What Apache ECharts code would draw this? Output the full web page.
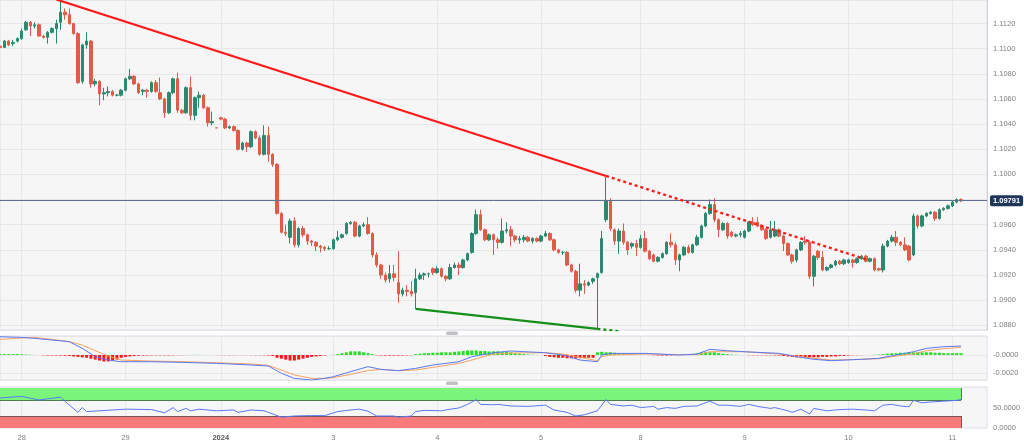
<!DOCTYPE html>
<html><head><meta charset="utf-8">
<script src="https://cdn.jsdelivr.net/npm/echarts@6/dist/echarts.min.js"></script>
<style>html,body{margin:0;padding:0;background:#fff;}#c{width:1024px;height:442px;}</style>
</head><body><div id="c"></div>
<script>
// ---- day structure of hourly candles (label, first hour, number of hourly candles) ----
const days = [
  {label:'27', start:19, count:5},
  {label:'28', start:0, count:24},
  {label:'29', start:0, count:22},
  {label:'2024', start:0, count:26},
  {label:'3', start:0, count:24},
  {label:'4', start:0, count:24},
  {label:'5', start:0, count:23},
  {label:'8', start:0, count:24},
  {label:'9', start:0, count:24},
  {label:'10', start:0, count:24},
  {label:'11', start:0, count:9}
];
// ---- hourly candles: [open, close, low, high] ----
const candles = [
[1.1102,1.1101,1.1100,1.1104],
[1.1101,1.1106,1.1101,1.1107],[1.1106,1.1103,1.1102,1.1107],[1.1104,1.1105,1.1102,1.1107],[1.1106,1.1108,1.1105,1.1109],
[1.1108,1.1114,1.1107,1.1116],[1.1115,1.1121,1.1114,1.1122],[1.1121,1.1118,1.1110,1.1122],[1.1118,1.1119,1.1116,1.1121],
[1.1119,1.1110,1.1110,1.1120],[1.1110,1.1109,1.1108,1.1111],[1.1109,1.1113,1.1104,1.1114],[1.1113,1.1116,1.1112,1.1117],
[1.1116,1.1120,1.1104,1.1123],[1.1121,1.1129,1.1115,1.1138],[1.1129,1.1127,1.1123,1.1132],[1.1127,1.1120,1.1119,1.1132],
[1.1120,1.1112,1.1111,1.1120],[1.1112,1.1073,1.1072,1.1113],[1.1074,1.1103,1.1072,1.1104],[1.1103,1.1106,1.1100,1.1113],
[1.1106,1.1072,1.1069,1.1107],[1.1072,1.1074,1.1070,1.1076],[1.1074,1.1064,1.1055,1.1075],[1.1064,1.1065,1.1059,1.1069],
[1.1065,1.1066,1.1062,1.1070],[1.1066,1.1063,1.1062,1.1067],[1.1063,1.1063,1.1062,1.1064],[1.1063,1.1067,1.1062,1.1068],
[1.1067,1.1076,1.1066,1.1077],[1.1076,1.1078,1.1075,1.1084],[1.1078,1.1072,1.1071,1.1079],[1.1072,1.1065,1.1064,1.1073],
[1.1066,1.1067,1.1063,1.1068],[1.1067,1.1066,1.1061,1.1068],[1.1066,1.1073,1.1065,1.1074],[1.1073,1.1066,1.1065,1.1075],
[1.1065,1.1060,1.1059,1.1077],[1.1060,1.1049,1.1045,1.1061],[1.1049,1.1065,1.1048,1.1066],[1.1065,1.1076,1.1064,1.1077],
[1.1076,1.1051,1.1049,1.1081],[1.1051,1.1049,1.1048,1.1052],[1.1049,1.1069,1.1048,1.1070],[1.1069,1.1047,1.1043,1.1078],
[1.1047,1.1061,1.1043,1.1062],[1.1061,1.1063,1.1053,1.1066],[1.1063,1.1053,1.1052,1.1064],[1.1053,1.1041,1.1038,1.1054],
[1.1041,1.1042,1.1039,1.1050],[1.1037,1.1037,1.1037,1.1037],[1.1045,1.1044,1.1043,1.1046],[1.1044,1.1037,1.1036,1.1045],
[1.1037,1.1038,1.1036,1.1039],[1.1038,1.1035,1.1034,1.1039],[1.1035,1.1020,1.1019,1.1036],[1.1020,1.1025,1.1019,1.1026],
[1.1025,1.1022,1.1018,1.1026],[1.1022,1.1034,1.1021,1.1035],[1.1034,1.1029,1.1028,1.1035],[1.1029,1.1016,1.1015,1.1031],
[1.1016,1.1031,1.1015,1.1039],[1.1031,1.1016,1.1010,1.1038],[1.1016,1.1008,1.1006,1.1017],[1.1008,1.0969,1.0968,1.1009],
[1.0969,1.0954,1.0953,1.0970],[1.0954,1.0953,1.0951,1.0960],[1.0950,1.0963,1.0945,1.0965],[1.0963,1.0944,1.0942,1.0966],
[1.0944,1.0957,1.0942,1.0958],[1.0957,1.0952,1.0950,1.0959],[1.0952,1.0947,1.0944,1.0953],[1.0947,1.0946,1.0943,1.0948],
[1.0946,1.0943,1.0939,1.0947],[1.0943,1.0942,1.0938,1.0944],[1.0942,1.0941,1.0939,1.0943],[1.0941,1.0941,1.0940,1.0943],
[1.0941,1.0948,1.0940,1.0949],[1.0948,1.0950,1.0947,1.0955],[1.0950,1.0952,1.0949,1.0953],[1.0953,1.0961,1.0952,1.0962],
[1.0961,1.0962,1.0960,1.0963],[1.0962,1.0951,1.0950,1.0963],[1.0951,1.0959,1.0950,1.0960],[1.0959,1.0960,1.0958,1.0962],
[1.0960,1.0953,1.0952,1.0966],[1.0953,1.0936,1.0934,1.0954],[1.0936,1.0928,1.0926,1.0938],[1.0928,1.0920,1.0917,1.0929],
[1.0920,1.0916,1.0914,1.0922],[1.0917,1.0921,1.0914,1.0928],[1.0921,1.0918,1.0915,1.0928],[1.0914,1.0905,1.0898,1.0939],
[1.0905,1.0908,1.0903,1.0910],[1.0908,1.0907,1.0903,1.0912],[1.0907,1.0905,1.0903,1.0915],[1.0906,1.0917,1.0893,1.0925],
[1.0917,1.0920,1.0916,1.0922],[1.0920,1.0921,1.0916,1.0922],[1.0921,1.0921,1.0918,1.0922],[1.0925,1.0922,1.0920,1.0926],
[1.0922,1.0925,1.0921,1.0927],[1.0925,1.0919,1.0918,1.0926],[1.0919,1.0917,1.0915,1.0920],[1.0917,1.0926,1.0916,1.0929],
[1.0926,1.0928,1.0925,1.0930],[1.0928,1.0926,1.0920,1.0930],[1.0926,1.0932,1.0925,1.0933],[1.0932,1.0937,1.0931,1.0938],
[1.0938,1.0953,1.0937,1.0954],[1.0953,1.0968,1.0952,1.0972],[1.0968,1.0956,1.0955,1.0972],[1.0956,1.0948,1.0947,1.0957],
[1.0948,1.0952,1.0947,1.0953],[1.0952,1.0948,1.0936,1.0953],[1.0948,1.0946,1.0941,1.0950],[1.0946,1.0955,1.0945,1.0965],
[1.0955,1.0956,1.0953,1.0962],[1.0956,1.0951,1.0943,1.0959],[1.0951,1.0948,1.0946,1.0952],[1.0948,1.0949,1.0945,1.0951],
[1.0948,1.0950,1.0946,1.0952],[1.0950,1.0947,1.0946,1.0951],[1.0947,1.0949,1.0945,1.0950],[1.0949,1.0947,1.0946,1.0950],
[1.0947,1.0951,1.0946,1.0952],[1.0951,1.0953,1.0950,1.0955],[1.0953,1.0948,1.0947,1.0954],[1.0948,1.0940,1.0939,1.0949],
[1.0940,1.0938,1.0937,1.0941],[1.0938,1.0938,1.0936,1.0939],[1.0938,1.0928,1.0927,1.0939],[1.0928,1.0923,1.0922,1.0929],
[1.0923,1.0908,1.0906,1.0924],[1.0908,1.0913,1.0903,1.0929],[1.0913,1.0912,1.0905,1.0916],[1.0912,1.0914,1.0911,1.0915],
[1.0915,1.0917,1.0913,1.0918],[1.0918,1.0921,1.0877,1.0922],[1.0922,1.0949,1.0921,1.0955],[1.0964,1.0979,1.0962,1.0998],
[1.0979,1.0957,1.0955,1.0981],[1.0956,1.0947,1.0944,1.0957],[1.0947,1.0955,1.0937,1.0957],[1.0955,1.0946,1.0944,1.0961],
[1.0946,1.0940,1.0936,1.0947],[1.0943,1.0945,1.0941,1.0946],[1.0945,1.0942,1.0935,1.0948],[1.0942,1.0949,1.0941,1.0952],
[1.0949,1.0939,1.0938,1.0955],[1.0939,1.0933,1.0932,1.0940],[1.0936,1.0931,1.0930,1.0937],[1.0931,1.0934,1.0930,1.0935],
[1.0934,1.0937,1.0933,1.0938],[1.0937,1.0946,1.0936,1.0947],[1.0946,1.0944,1.0942,1.0953],[1.0944,1.0932,1.0928,1.0946],
[1.0932,1.0936,1.0923,1.0937],[1.0936,1.0942,1.0935,1.0943],[1.0942,1.0938,1.0937,1.0944],[1.0938,1.0944,1.0937,1.0945],
[1.0944,1.0950,1.0943,1.0952],[1.0950,1.0959,1.0949,1.0960],[1.0959,1.0969,1.0958,1.0970],[1.0969,1.0976,1.0968,1.0980],
[1.0976,1.0964,1.0962,1.0981],[1.0964,1.0956,1.0950,1.0965],[1.0956,1.0961,1.0955,1.0962],[1.0961,1.0951,1.0949,1.0962],
[1.0954,1.0951,1.0950,1.0955],[1.0951,1.0952,1.0950,1.0953],[1.0952,1.0953,1.0950,1.0955],[1.0950,1.0955,1.0949,1.0956],
[1.0955,1.0962,1.0954,1.0963],[1.0962,1.0960,1.0959,1.0966],[1.0962,1.0959,1.0958,1.0966],[1.0959,1.0956,1.0955,1.0960],
[1.0956,1.0949,1.0948,1.0957],[1.0950,1.0956,1.0949,1.0963],[1.0951,1.0956,1.0950,1.0963],[1.0956,1.0951,1.0950,1.0957],
[1.0951,1.0945,1.0939,1.0952],[1.0945,1.0936,1.0935,1.0946],[1.0936,1.0931,1.0929,1.0937],[1.0932,1.0940,1.0930,1.0941],
[1.0940,1.0946,1.0939,1.0947],[1.0947,1.0946,1.0944,1.0951],[1.0946,1.0919,1.0917,1.0947],[1.0919,1.0935,1.0911,1.0936],
[1.0939,1.0934,1.0932,1.0940],[1.0934,1.0924,1.0923,1.0939],[1.0924,1.0926,1.0923,1.0927],[1.0926,1.0928,1.0925,1.0929],
[1.0928,1.0931,1.0927,1.0932],[1.0931,1.0929,1.0928,1.0932],[1.0929,1.0932,1.0928,1.0933],[1.0930,1.0932,1.0929,1.0933],
[1.0932,1.0930,1.0926,1.0933],[1.0930,1.0933,1.0929,1.0934],[1.0933,1.0935,1.0932,1.0936],[1.0935,1.0931,1.0930,1.0936],
[1.0931,1.0933,1.0930,1.0934],[1.0933,1.0924,1.0923,1.0934],[1.0925,1.0924,1.0923,1.0926],[1.0924,1.0943,1.0922,1.0945],
[1.0943,1.0947,1.0942,1.0948],[1.0947,1.0950,1.0946,1.0952],[1.0950,1.0946,1.0943,1.0955],[1.0946,1.0944,1.0943,1.0947],
[1.0944,1.0940,1.0939,1.0950],[1.0943,1.0932,1.0931,1.0944],[1.0936,1.0967,1.0935,1.0969],[1.0967,1.0959,1.0957,1.0968],
[1.0959,1.0967,1.0958,1.0968],[1.0967,1.0969,1.0966,1.0970],[1.0969,1.0970,1.0968,1.0971],[1.0970,1.0965,1.0963,1.0971],
[1.0965,1.0972,1.0964,1.0973],[1.0972,1.0973,1.0971,1.0974],[1.0973,1.0975,1.0972,1.0976],[1.0975,1.0978,1.0974,1.0979],
[1.0978,1.0980,1.0977,1.0981],[1.0980,1.0979,1.0978,1.0981]
];
const lastPrice = 1.09791;
// ---- trend lines: [candle index, price] ----
const resistanceLine = [[13, 1.11391], [140, 1.09988]];
const resistanceExt  = [[140, 1.09988], [200, 1.09325]];
const supportLine    = [[96, 1.08931], [138, 1.08772]];
const supportExt     = [[138, 1.08772], [143, 1.08753]];
// ---- MACD ----
const macdLine = [[0,0.0020],[5,0.00193],[8,0.00182],[12,0.00164],[16,0.00146],[19,0.00073],[22,-0.00018],[25,-0.00055],[28,-0.00073],[35,-0.00073],[42,-0.0008],[50,-0.00091],[58,-0.00109],[62,-0.0012],[65,-0.002],[68,-0.00255],[72,-0.00273],[75,-0.00255],[77,-0.00237],[81,-0.00182],[85,-0.00127],[88,-0.00157],[92,-0.00171],[96,-0.00146],[100,-0.00109],[106,-0.00073],[109,-0.00018],[114,0.00025],[118,0.00044],[126,0.00025],[130,0],[134,-0.00055],[138,-0.00073],[139,0],[141,0.00018],[149,0.00018],[157,0],[161,0.00011],[164,0.00062],[168,0.00047],[172,0.00036],[180,0.00018],[184,-0.00018],[188,-0.00047],[192,-0.00062],[199,-0.00047],[203,-0.00036],[207,0],[211,0.00036],[214,0.00073],[218,0.00091],[222,0.00098]];
const signalLine = [[0,0.00171],[5,0.00186],[8,0.00193],[12,0.00171],[16,0.00146],[19,0.00109],[22,0.00047],[25,-0.00011],[28,-0.00055],[35,-0.00066],[42,-0.00073],[50,-0.00084],[58,-0.00098],[62,-0.00113],[65,-0.00164],[68,-0.00218],[72,-0.00255],[75,-0.00255],[77,-0.00248],[81,-0.00211],[85,-0.00171],[88,-0.00157],[92,-0.00171],[96,-0.00164],[100,-0.00135],[106,-0.00091],[109,-0.00055],[114,0.00011],[118,0.00022],[126,0.00025],[130,0.00011],[134,-0.00025],[138,-0.00062],[139,-0.00018],[141,0],[149,0.00011],[157,0.00004],[161,0.00004],[164,0.00036],[168,0.00036],[172,0.00036],[180,0.00011],[184,-0.00011],[188,-0.00036],[192,-0.00055],[199,-0.00047],[203,-0.0004],[207,-0.00011],[211,0.00011],[214,0.00047],[218,0.00069],[222,0.00084]];
const macdHist = [
0.0001,0.0001,0.0001,0.0001,0.0001,0.00008,0.00005,0.00003,0.00002,0,
-0.00003,-0.00005,-0.00005,-0.00005,-0.00006,-0.00008,-0.0001,
-0.00015,-0.0002,-0.00025,
-0.0003,-0.0004,-0.0005,-0.0006,-0.0007,-0.0007,-0.0006,-0.0005,
-0.0003,-0.0002,-0.00015,
-0.0001,-0.00008,-0.00006,-0.00005,-0.00004,-0.00003,-0.00003,-0.00003,-0.00004,-0.00003,
-0.00002,-0.00002,-0.00001,0.00001,0.00002,0.00002,0.00002,0.00001,0,-0.00001,-0.00001,-0.00002,-0.00002,-0.00002,-0.00001,-0.00001,-0.00001,-0.00002,-0.00002,-0.00002,-0.00003,-0.00005,
-0.0001,-0.0003,-0.0004,-0.0005,-0.0006,-0.0006,-0.0005,-0.0004,-0.0003,-0.0002,-0.00015,-0.0001,-0.00005,
0,0.00003,
0.0001,0.0002,0.0003,0.0004,0.0004,0.0004,0.0003,0.0002,0.0001,
-0.00003,-0.00005,-0.00006,-0.00006,-0.00006,-0.00006,-0.00005,-0.00004,-0.00002,
0.0001,0.00015,0.0002,0.0002,0.00025,0.00025,0.0003,0.0003,0.0003,0.00035,0.0004,0.00045,0.0005,0.0005,0.0005,0.00045,0.00045,0.0004,0.0004,0.0004,0.00035,0.00035,0.0003,
0.0002,0.00015,0.0001,0.00005,0.00003,0.00001,0,
-0.0001,-0.0002,-0.00025,-0.0003,-0.0003,-0.00035,-0.00035,-0.00035,-0.00035,-0.0003,-0.0003,-0.0003,
0.0003,0.00035,0.0003,0.0003,0.00025,0.0002,0.00015,0.0001,
0.00005,0.00003,0.00002,0.00001,0,-0.00002,-0.00005,-0.00005,-0.00005,-0.00003,-0.00001,0.00001,0.00003,0.00006,
0.0001,0.0002,0.0003,0.0003,0.0003,0.0003,0.0002,0.00015,0.0001,
0.00005,0.00003,0.00001,0,-0.00002,-0.00003,-0.00003,-0.00003,-0.00003,-0.00003,-0.00004,-0.00006,
-0.0001,-0.00015,-0.0002,-0.00025,-0.00025,-0.00025,-0.00025,-0.00025,-0.00025,-0.0002,-0.0002,-0.00015,-0.00015,-0.0001,-0.0001,-0.00005,
-0.00003,-0.00002,-0.00001,0,0.00001,0.00003,0.00005,
0.0001,0.00015,0.0002,0.0002,0.00025,0.00025,0.0003,0.0003,0.0003,0.0003,0.0003,0.0003,0.00025,0.00025,0.0002,0.0002,0.0002,0.0002,0.0002
];
// ---- RSI ----
const rsiLine = [[0,75],[5,79],[9,70],[14,77],[15,67],[18,39],[19,51],[20,41],[23,43],[29,47],[35,46],[38,38],[40,51],[41,41],[43,49],[44,43],[46,47],[50,43],[54,45],[55,39],[58,45],[61,43],[62,39],[65,27],[68,30],[72,31],[75,31],[78,41],[81,45],[83,47],[85,42],[87,30],[91,30],[92,27],[95,30],[96,41],[98,44],[102,43],[104,47],[106,50],[108,59],[110,71],[111,59],[114,58],[115,59],[118,55],[122,54],[126,57],[128,45],[131,39],[133,30],[135,33],[138,43],[140,71],[141,59],[144,55],[146,57],[148,51],[151,54],[152,47],[154,51],[156,49],[158,54],[161,55],[164,67],[166,57],[168,57],[171,54],[173,59],[175,54],[178,49],[179,51],[182,43],[183,39],[185,47],[187,35],[188,49],[191,43],[194,46],[197,47],[200,45],[202,43],[204,57],[206,59],[208,55],[210,53],[211,69],[213,63],[215,65],[218,67],[221,69],[222,71]];
const rsiBands = {upper:[70,100], lower:[0,30]};
const priceTicks = {min:1.08763, max:1.11387, step:0.002};

// ---- build categories ----
const categories = [];
days.forEach(d => { for (let h = 0; h < d.count; h++) categories.push(d.label + '|' + (d.start + h)); });
const isDayStart = (i, v) => /\|0$/.test(v);
const UP = '#2a8a6f', DOWN = '#e25b49';
const LABEL = {fontSize: 7.5, color: '#808080', fontFamily: 'Liberation Sans, Arial, sans-serif'};
const gridBase = {left: 0, right: 37, show: true, backgroundColor: '#f6f6f6', borderColor: '#dcdde8', borderWidth: 1};
const bandEnd = categories[candles.length - 1];
const bandStart = categories[0];

const chart = echarts.init(document.getElementById('c'), null, {renderer: 'canvas'});
chart.setOption({
  animation: false,
  backgroundColor: '#ffffff',
  grid: [
    Object.assign({top: 0, height: 330}, gridBase),
    Object.assign({top: 336, height: 44}, gridBase),
    Object.assign({top: 387, height: 43}, gridBase)
  ],
  xAxis: [0, 1, 2].map(g => ({
    type: 'category', gridIndex: g, data: categories, boundaryGap: false,
    axisLine: {show: false}, axisTick: {show: false},
    axisLabel: Object.assign({
      show: g === 2, interval: isDayStart, margin: 6,
      formatter: v => { const d = v.split('|')[0]; return d === '2024' ? '{b|2024}' : d; },
      rich: {b: {fontWeight: 'bold', fontSize: 7.5, color: '#555'}}
    }, LABEL),
    splitLine: {show: true, interval: isDayStart, lineStyle: {color: '#e7e7e9', width: 1}}
  })),
  yAxis: [
    {type: 'value', gridIndex: 0, position: 'right', min: priceTicks.min, max: priceTicks.max,
     minInterval: priceTicks.step, maxInterval: priceTicks.step,
     axisLine: {show: true, lineStyle: {color: '#c9cedd'}}, axisTick: {show: false},
     axisLabel: Object.assign({margin: 6, showMinLabel: false, showMaxLabel: false, formatter: v => v.toFixed(4)}, LABEL),
     splitLine: {lineStyle: {color: '#e7e7e9'}}},
    {type: 'value', gridIndex: 1, position: 'right', min: -0.00273, max: 0.00208,
     minInterval: 0.002, maxInterval: 0.002,
     axisLine: {show: false}, axisTick: {show: false},
     axisLabel: Object.assign({margin: 6, showMinLabel: false, showMaxLabel: false,
       formatter: v => Math.abs(v) < 1e-9 ? '-0.0000' : (Math.abs(v + 0.002) < 1e-9 ? '-0.0020' : '')}, LABEL),
     splitLine: {lineStyle: {color: '#e7e7e9'}}},
    {type: 'value', gridIndex: 2, position: 'right', min: 0, max: 102.4,
     minInterval: 50, maxInterval: 50,
     axisLine: {show: false}, axisTick: {show: false},
     axisLabel: Object.assign({margin: 6, showMaxLabel: false,
       formatter: v => (v === 0 || v === 50) ? v.toFixed(4) : ''}, LABEL),
     splitLine: {show: false}}
  ],
  series: [
    {type: 'candlestick', xAxisIndex: 0, yAxisIndex: 0, data: candles, barWidth: 3,
     itemStyle: {color: UP, color0: DOWN, borderColor: UP, borderColor0: DOWN, borderWidth: 1},
     markLine: {silent: true, symbol: ['none', 'none'], precision: 5,
       data: [{yAxis: lastPrice}],
       lineStyle: {color: '#5d7090', width: 1, type: 'solid'},
       label: {show: true, position: 'end', distance: 3, formatter: lastPrice.toFixed(5),
         color: '#ffffff', backgroundColor: '#1f3659', fontSize: 7.5, fontWeight: 'bold',
         padding: [2, 3, 1, 3], borderRadius: 2, fontFamily: 'Liberation Sans, Arial, sans-serif'}}},
    {type: 'line', xAxisIndex: 0, yAxisIndex: 0, data: resistanceLine, symbol: 'none', z: 5,
     lineStyle: {color: '#ff1a1a', width: 2.2}},
    {type: 'line', xAxisIndex: 0, yAxisIndex: 0, data: resistanceExt, symbol: 'none', z: 5,
     lineStyle: {color: '#ff1a1a', width: 2.4, type: [3, 3]}},
    {type: 'line', xAxisIndex: 0, yAxisIndex: 0, data: supportLine, symbol: 'none', z: 5,
     lineStyle: {color: '#16901a', width: 2.2}},
    {type: 'line', xAxisIndex: 0, yAxisIndex: 0, data: supportExt, symbol: 'none', z: 5,
     lineStyle: {color: '#16901a', width: 2.4, type: [3, 3]}},
    {type: 'bar', xAxisIndex: 1, yAxisIndex: 1, data: macdHist, barWidth: 3,
     itemStyle: {color: p => p.value >= 0 ? '#22e022' : '#ff1414'}},
    {type: 'line', xAxisIndex: 1, yAxisIndex: 1, data: signalLine, symbol: 'none', z: 4,
     lineStyle: {color: '#f4a261', width: 1}},
    {type: 'line', xAxisIndex: 1, yAxisIndex: 1, data: macdLine, symbol: 'none', z: 5,
     lineStyle: {color: '#5a78f2', width: 1}},
    {type: 'line', xAxisIndex: 2, yAxisIndex: 2, data: rsiLine, symbol: 'none', z: 5,
     lineStyle: {color: '#5a78f2', width: 1},
     markArea: {silent: true,
       data: [
         [{xAxis: bandStart, yAxis: rsiBands.upper[0], itemStyle: {color: '#7af47a'}},
          {xAxis: bandEnd, yAxis: rsiBands.upper[1]}],
         [{xAxis: bandStart, yAxis: rsiBands.lower[0], itemStyle: {color: '#f77b7b'}},
          {xAxis: bandEnd, yAxis: rsiBands.lower[1]}]
       ]},
     markLine: {silent: true, symbol: ['none', 'none'], label: {show: false},
       lineStyle: {type: 'solid', width: 1},
       data: [
         [{xAxis: bandStart, yAxis: rsiBands.upper[0], lineStyle: {color: '#4f7a4f'}}, {xAxis: bandEnd, yAxis: rsiBands.upper[0]}],
         [{xAxis: bandEnd, yAxis: rsiBands.upper[0], lineStyle: {color: '#4f7a4f'}}, {xAxis: bandEnd, yAxis: rsiBands.upper[1]}],
         [{xAxis: bandStart, yAxis: rsiBands.lower[1], lineStyle: {color: '#7a5252'}}, {xAxis: bandEnd, yAxis: rsiBands.lower[1]}],
         [{xAxis: bandEnd, yAxis: rsiBands.lower[0], lineStyle: {color: '#7a5252'}}, {xAxis: bandEnd, yAxis: rsiBands.lower[1]}]
       ]}}
  ],
  graphic: [
    {type: 'rect', shape: {x: 446, y: 331.5, width: 12, height: 3.5, r: 1.5}, style: {fill: '#c2c2c2'}, z: 100},
    {type: 'rect', shape: {x: 446, y: 381.5, width: 12, height: 3.5, r: 1.5}, style: {fill: '#c2c2c2'}, z: 100}
  ]
});
</script>
</body></html>
